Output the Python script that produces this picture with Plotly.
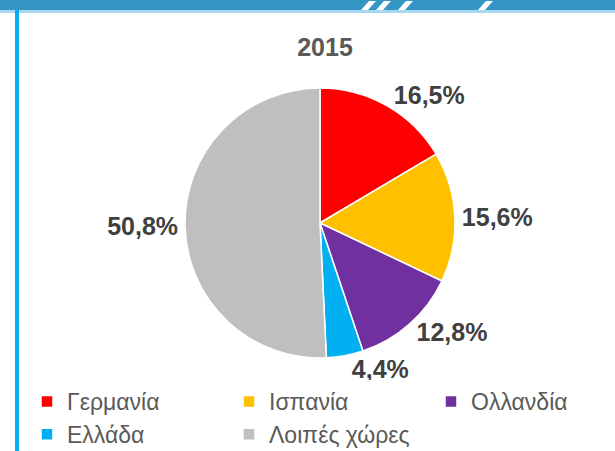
import plotly.graph_objects as go

# Share of total, 2015 (%)
countries = ["Γερμανία", "Ισπανία", "Ολλανδία", "Ελλάδα", "Λοιπές χώρες"]
shares = [16.5, 15.6, 12.8, 4.4, 50.8]
colors = ["#FF0000", "#FFC000", "#7030A0", "#00B0F0", "#BFBFBF"]
year = "2015"

W, H = 615, 451


def px_x(v):
    return v / W


def px_y(v):
    return 1 - v / H


fig = go.Figure()

fig.add_trace(go.Pie(
    labels=countries,
    values=shares,
    sort=False,
    direction="clockwise",
    rotation=0,
    marker=dict(colors=colors, line=dict(color="white", width=1.5)),
    texttemplate="%{value:.1f}%",
    textposition="outside",
    textfont=dict(family="Liberation Sans, Arial", size=25, color="#404040", weight="bold"),
    hoverinfo="label+value",
    domain=dict(x=[px_x(185), px_x(455)], y=[px_y(358), px_y(88)]),
))

# decorative frame: top band with stripes and left rule
shapes = [
    dict(type="rect", xref="paper", yref="paper", x0=0, x1=1, y0=px_y(10), y1=1,
         fillcolor="#3596C4", line=dict(width=0), layer="below"),
    dict(type="rect", xref="paper", yref="paper", x0=0, x1=1, y0=px_y(13), y1=px_y(10),
         fillcolor="#A8D8F0", line=dict(width=0), layer="below"),
    dict(type="rect", xref="paper", yref="paper", x0=px_x(15), x1=px_x(19), y0=0, y1=px_y(10),
         fillcolor="#00B0F0", line=dict(width=0), layer="below"),
]
for xb in [361, 376, 398, 478]:
    path = "M {},{} L {},{} L {},{} L {},{} Z".format(
        px_x(xb), px_y(10), px_x(xb + 7), px_y(10),
        px_x(xb + 15), px_y(1), px_x(xb + 8), px_y(1))
    shapes.append(dict(type="path", xref="paper", yref="paper", path=path,
                       fillcolor="white", line=dict(width=0)))

fig.update_layout(
    width=W,
    height=H,
    margin=dict(l=0, r=0, t=0, b=0, autoexpand=False),
    paper_bgcolor="white",
    plot_bgcolor="white",
    separators=",.",
    font=dict(family="Liberation Sans, Arial", color="#595959"),
    title=dict(text="<b>" + year + "</b>", x=px_x(325), xanchor="center",
               y=px_y(47), yanchor="middle",
               font=dict(size=25, color="#595959")),
    legend=dict(
        orientation="h",
        x=px_x(27), xanchor="left",
        y=px_y(380), yanchor="top",
        entrywidth=157,
        entrywidthmode="pixels",
        font=dict(size=23, color="#595959"),
        itemclick=False,
        tracegroupgap=0,
    ),
    shapes=shapes,
)

fig.write_html("out.html", config={"displayModeBar": False},
               post_script="document.body.style.margin='0';")
